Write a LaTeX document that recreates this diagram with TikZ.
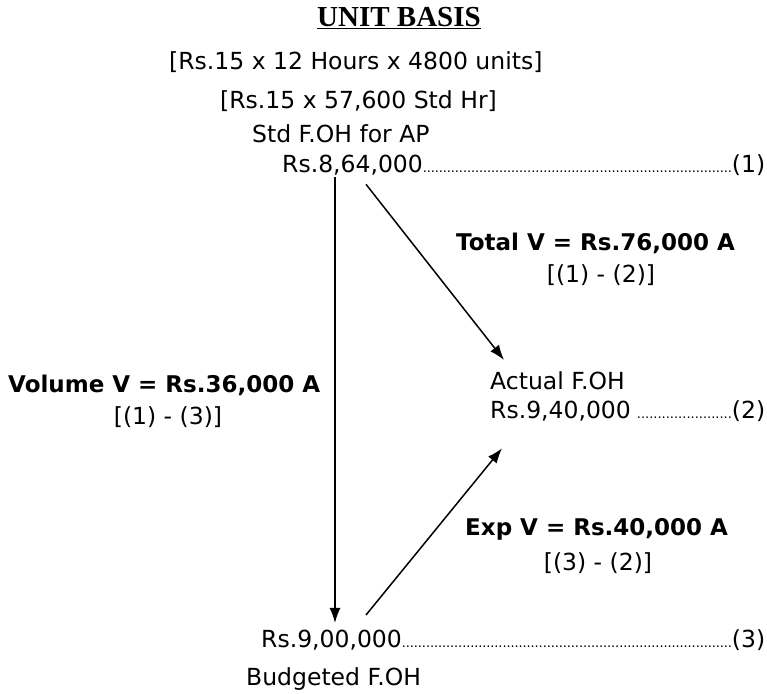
\documentclass[tikz,border=0pt]{standalone}
\usepackage{fontspec}
\setmainfont{DejaVu Sans}
\newfontfamily\titlefont{Liberation Serif}
\usetikzlibrary{arrows.meta}
% small dense dots between an amount and its row number
\newcommand{\dotlead}{\xleaders\hbox to 4pt{\hss\fontsize{13}{13}\selectfont.\hss}\hfill}

\begin{document}
\begin{tikzpicture}[x=1pt,y=-1pt,font=\fontsize{23.5}{28}\selectfont,
  txt/.style={anchor=base west, inner sep=0pt},
  frm/.style={anchor=base, inner sep=0pt},
  varlbl/.style={txt, font=\fontsize{23}{28}\selectfont\bfseries},
  flow/.style={-{Latex[length=15pt,width=11pt]}, line width=1.5pt}]
\useasboundingbox (0,0) rectangle (767,693);
% heading and standard overhead
\node[frm, font=\fontsize{29}{32}\selectfont\titlefont\bfseries] (title) at (399,27) {\underline{UNIT BASIS}};
\node[txt] (calcA) at (169,69) {[Rs.15 x 12 Hours x 4800 units]};
\node[txt] (calcB) at (220,108) {[Rs.15 x 57,600 Std Hr]};
\node[txt] (stdlbl) at (252,142) {Std F.OH for AP};
\node[txt] (std) at (282,172) {\makebox[483pt][l]{Rs.8,64,000\dotlead(1)}};
% actual overhead
\node[txt] (actlbl) at (490,389) {Actual F.OH};
\node[txt] (act) at (490,418) {\makebox[275pt][l]{Rs.9,40,000\hspace{6pt}\dotlead(2)}};
% budgeted overhead
\node[txt] (bud) at (261,647) {\makebox[504pt][l]{Rs.9,00,000\dotlead(3)}};
\node[txt] (budlbl) at (246,685) {Budgeted F.OH};
% variances
\node[varlbl] (totv) at (456,250) {Total V = Rs.76,000 A};
\node[frm] (totf) at (601,282) {[(1) - (2)]};
\node[varlbl] (volv) at (8,392) {Volume V = Rs.36,000 A};
\node[frm] (volf) at (168,424) {[(1) - (3)]};
\node[varlbl] (expv) at (465,535) {Exp V = Rs.40,000 A};
\node[frm] (expf) at (598,570) {[(3) - (2)]};
% arrows
\draw[flow] ([xshift=53pt,yshift=-2pt]std.south west) -- ([xshift=74pt,yshift=6pt]bud.north west);
\draw[flow] ([xshift=84pt,yshift=-9pt]std.south west) -- ([xshift=14pt,yshift=11pt]actlbl.north west);
\draw[flow] ([xshift=105pt,yshift=14pt]bud.north west) -- ([xshift=12pt,yshift=-27pt]act.south west);
\end{tikzpicture}
\end{document}
